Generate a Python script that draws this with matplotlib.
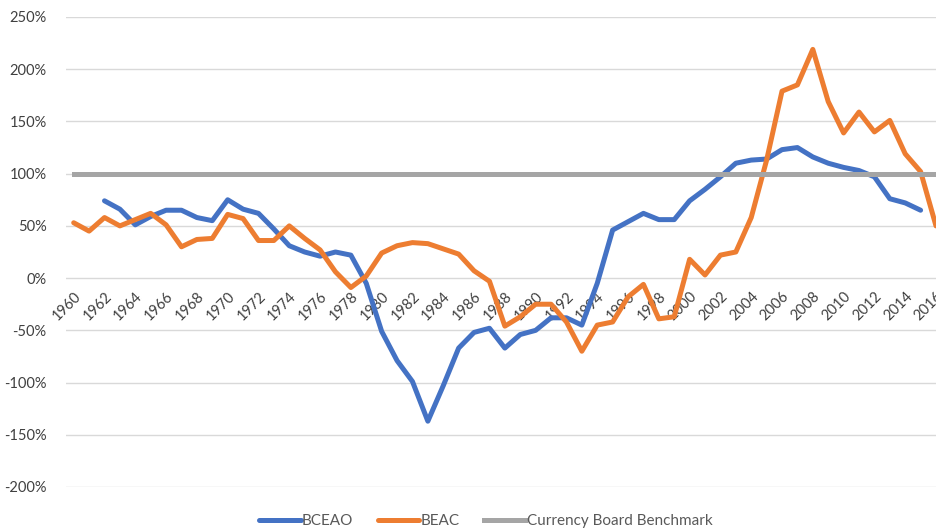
import numpy as np
import matplotlib
matplotlib.use("Agg")
import matplotlib.pyplot as plt

# Datos (en %)
years = list(range(1960, 2017))

bceao = [np.nan, np.nan, 74, 66, 51, 59, 65, 65, 58, 55,
         75, 66, 62, 47, 31, 25, 21, 25, 22, -5,
         -51, -79, -99, -137, -103, -67, -52, -48, -67, -54,
         -50, -38, -38, -45, -5, 46, 54, 62, 56, 56,
         74, 85, 97, 110, 113, 114, 123, 125, 116, 110,
         106, 103, 97, 76, 72, 65, np.nan]

beac = [53, 45, 58, 50, 56, 62, 51, 30, 37, 38,
        61, 57, 36, 36, 50, 38, 27, 6, -9, 2,
        24, 31, 34, 33, 28, 23, 7, -3, -46, -37,
        -25, -25, -42, -70, -45, -42, -18, -6, -39, -37,
        18, 3, 22, 25, 58, 113, 179, 185, 219, 169,
        139, 159, 140, 151, 119, 102, 50]

benchmark = [100] * len(years)

yticks = list(range(-200, 251, 50))
xticks = list(range(1960, 2017, 2))

plt.rcParams["font.family"] = ["Lato", "DejaVu Sans"]

fig = plt.figure(figsize=(9.36, 5.3), dpi=100)
ax = fig.add_axes([66 / 936, 43 / 530, 870 / 936, 470 / 530])

ax.plot(years, bceao, color="#4472C4", lw=3.6, label="BCEAO", solid_capstyle="round", zorder=3)
ax.plot(years, beac, color="#ED7D31", lw=3.6, label="BEAC", solid_capstyle="round", zorder=4)
ax.plot(years, benchmark, color="#A5A5A5", lw=3.6, label="Currency Board Benchmark", zorder=5)

ax.set_xlim(1959.5, 2015.97)
ax.set_ylim(-200, 250)

ax.set_yticks(yticks)
ax.set_yticklabels([f"{v}%" for v in yticks])
ax.grid(axis="y", color="#D9D9D9", lw=1)
ax.set_axisbelow(True)

for s in ax.spines.values():
    s.set_visible(False)
ax.spines["bottom"].set_position(("data", 0))

ax.set_xticks(xticks)
ax.set_xticklabels([str(y) for y in xticks], rotation=45, ha="right",
                   va="top", rotation_mode="anchor")
ax.tick_params(axis="x", length=0, pad=8, labelsize=10.5, labelcolor="#404040")
ax.tick_params(axis="y", length=0, pad=14, labelsize=10.5, labelcolor="#404040")

leg = fig.legend(loc="center", bbox_to_anchor=(486 / 936, 9 / 530), ncol=3,
                 frameon=False, fontsize=11, handlelength=2.7, handletextpad=0.1,
                 columnspacing=1.6)
for t in leg.get_texts():
    t.set_color("#595959")

fig.savefig("out.png", dpi=100)
